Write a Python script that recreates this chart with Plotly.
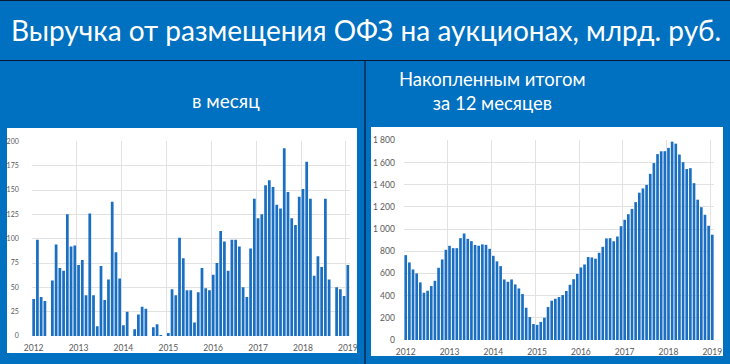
import plotly.graph_objects as go

# ---------------- data ----------------
years = ["2012", "2013", "2014", "2015", "2016", "2017", "2018", "2019"]
months = [f"{y}-{m:02d}" for y in years[:-1] for m in range(1, 13)] + ["2019-01"]

monthly = [
    38, 99, 40, 36, 0, 57, 94, 70, 67, 125, 92, 93,        # 2012
    73, 78, 42, 126, 42, 10, 72, 37, 58, 138, 86, 59,      # 2013
    11, 25, 0, 7, 22, 30, 28, 0, 9, 12, 1, 0,              # 2014
    3, 48, 42, 101, 80, 47, 47, 14, 45, 70, 49, 47,        # 2015
    63, 75, 108, 97, 67, 99, 99, 92, 50, 40, 90, 141,      # 2016
    121, 125, 155, 160, 153, 135, 131, 193, 148, 121, 114, 143,  # 2017
    151, 179, 141, 62, 82, 71, 141, 58, 0, 50, 48, 41,     # 2018
    73,                                                    # 2019
]

rolling12 = [
    765, 699, 636, 600, 519, 426, 444, 486, 534, 651, 726, 813,
    849, 828, 828, 918, 960, 912, 891, 857, 850, 862, 858, 822,
    759, 709, 666, 546, 525, 546, 501, 465, 414, 291, 207, 144,
    136, 163, 201, 297, 354, 372, 387, 405, 442, 498, 548, 596,
    654, 681, 748, 744, 733, 786, 840, 916, 918, 890, 933, 1026,
    1084, 1134, 1182, 1243, 1328, 1366, 1398, 1498, 1595, 1676, 1701, 1702,
    1732, 1788, 1770, 1672, 1603, 1541, 1549, 1414, 1265, 1197, 1129, 1030,
    949,
]

title = "Выручка от размещения ОФЗ на аукционах, млрд. руб."
head_left = "в месяц"
head_right = "Накопленным итогом<br>за 12 месяцев"

# ---------------- styles ----------------
W, H = 730, 364
BG = "#0070C0"
BAR = "#1A6FC2"
GRID = "#E2E2E2"
TICK = "#595959"
LINE = "#0B1A33"
FONT = "Lato, 'Open Sans', sans-serif"

def px(x):
    return x / W

def py(y):
    return 1 - y / H

xi = list(range(len(months)))
major = [months.index(f"{y}-01") for y in years]
minor = [v - 0.5 for v in major]

fig = go.Figure()
fig.add_trace(go.Bar(x=xi, y=monthly, marker=dict(color=BAR, line=dict(width=0)),
                     xaxis="x", yaxis="y", hoverinfo="skip"))
fig.add_trace(go.Bar(x=xi, y=rolling12, marker=dict(color=BAR, line=dict(width=0)),
                     xaxis="x2", yaxis="y2", hoverinfo="skip"))

def xax(dom):
    return dict(domain=dom, range=[-0.5, len(months) - 0.5], tickmode="array",
                tickvals=major, ticktext=years, showgrid=False, zeroline=False,
                showline=False, ticks="", automargin=False,
                tickfont=dict(size=8.5, color=TICK, family=FONT),
                ticklabelstandoff=5,
                minor=dict(tickmode="array", tickvals=minor, showgrid=True,
                           gridcolor=GRID, gridwidth=1, ticks=""))

def yax(dom, rng, dt, fs, so):
    return dict(domain=dom, range=rng, dtick=dt, tick0=0, showgrid=True,
                gridcolor=GRID, gridwidth=1, zeroline=False, showline=False,
                ticks="", automargin=False, ticklabelstandoff=so,
                tickfont=dict(size=fs, color=TICK, family=FONT))

fig.update_layout(
    width=W, height=H, autosize=False,
    margin=dict(l=0, r=0, t=0, b=0, pad=0),
    paper_bgcolor=BG, plot_bgcolor="white",
    showlegend=False, bargap=0.27,
    separators=", ",
    xaxis=xax([px(31.8), px(349.7)]),
    yaxis=yax([py(336), py(141)], [0, 200.4], 25, 7, 12),
    xaxis2=dict(xax([px(403.9), px(714.1)]), anchor="y2"),
    yaxis2=dict(yax([py(340), py(140)], [0, 1803], 200, 8.5, 8), anchor="x2",
                tickformat=",d"),
)
fig.update_layout(xaxis=dict(anchor="y"), yaxis=dict(anchor="x"))

shapes = [
    # white chart boxes
    dict(type="rect", xref="paper", yref="paper", x0=px(7), x1=px(357), y0=py(353), y1=py(128),
         fillcolor="white", line=dict(width=0), layer="below"),
    dict(type="rect", xref="paper", yref="paper", x0=px(371), x1=px(723), y0=py(356), y1=py(127),
         fillcolor="white", line=dict(width=0), layer="below"),
    # blue strip clipping the overflowing label
    dict(type="rect", xref="paper", yref="paper", x0=px(357), x1=px(371), y0=0, y1=py(128),
         fillcolor=BG, line=dict(width=0), layer="above"),
    # dark rules
    dict(type="line", xref="paper", yref="paper", x0=0, x1=1, y0=py(0.5), y1=py(0.5),
         line=dict(color=LINE, width=1), layer="above"),
    dict(type="line", xref="paper", yref="paper", x0=0, x1=1, y0=py(60.5), y1=py(60.5),
         line=dict(color=LINE, width=1.2), layer="above"),
    dict(type="line", xref="paper", yref="paper", x0=px(365), x1=px(365), y0=0, y1=py(60.5),
         line=dict(color=LINE, width=1.2), layer="above"),
]
fig.update_layout(shapes=shapes)

ann = [
    dict(text=title, x=px(366), y=py(30), font=dict(size=28, color="white", family=FONT)),
    dict(text=head_left, x=px(226.5), y=py(100), font=dict(size=19, color="white", family=FONT)),
    dict(text=head_right, x=px(493), y=py(91), font=dict(size=18.5, color="white", family=FONT)),
]
for a in ann:
    a.update(xref="paper", yref="paper", xanchor="center", yanchor="middle",
             showarrow=False, align="center")
fig.update_layout(annotations=ann)

fig.write_html("out.html",
               config={"displayModeBar": False, "staticPlot": True},
               post_script="document.body.style.margin='0';document.body.style.overflow='hidden';")
